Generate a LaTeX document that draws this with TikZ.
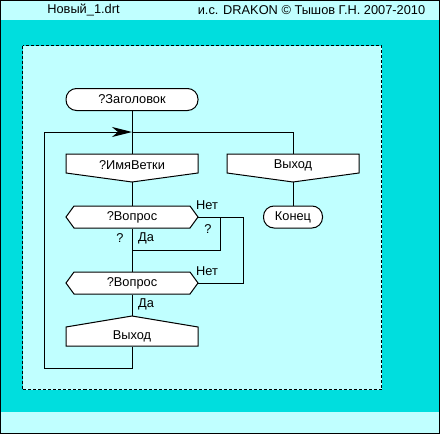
\documentclass[tikz,border=0pt]{standalone}
\usepackage{fontspec}
\setmainfont{Liberation Sans}
\usetikzlibrary{arrows.meta}
\definecolor{panel}{HTML}{C0FFFF}
\definecolor{field}{HTML}{00DEDE}

\begin{document}
\begin{tikzpicture}[x=1pt,y=-1pt,line width=1pt,font=\fontsize{12.8}{15}\selectfont,
  term/.style={draw,fill=white,rounded corners=10.5pt,minimum width=#1,minimum height=22pt,inner sep=0pt},
  body/.style={minimum width=#1,minimum height=22pt,inner sep=0pt},
  lbl/.style={inner sep=0pt},
  icon/.style={draw,fill=white,line join=miter}]
\useasboundingbox (0,0) rectangle (440,434);
\fill[panel] (0,0) rectangle (440,20);
\fill[field] (0,20) rectangle (440,412);
\fill[panel] (0,412) rectangle (440,434);
\draw[fill=panel,dash pattern=on 3pt off 2pt] (22.5,45.5) rectangle (381.5,389.5);
\draw (0.5,0.5) rectangle (439.5,433.5);
\draw[icon] (66,154) -- (198,154) -- (198,173) -- (132,182) -- (66,173) -- cycle;
\draw[icon] (227,154) -- (359,154) -- (359,173) -- (293,182) -- (227,173) -- cycle;
\draw[icon] (66,346) -- (198,346) -- (198,327) -- (132,316) -- (66,327) -- cycle;
\draw[icon] (66,217) -- (74,206) -- (190,206) -- (198,217) -- (190,228) -- (74,228) -- cycle;
\draw[icon] (66,283) -- (74,272) -- (190,272) -- (198,283) -- (190,294) -- (74,294) -- cycle;
\node[term=132pt] (title) at (132,99.5) {?Заголовок};
\node[body=132pt] (branch) at (132,165) {?ИмяВетки};
\node[body=132pt] (exitR) at (293,165) {Выход};
\node[term=59pt] (end) at (293,217) {Конец};
\node[body=116pt] (q1) at (132,217) {?Вопрос};
\node[body=116pt] (q2) at (132,283) {?Вопрос};
\node[body=132pt,minimum height=19pt] (exitB) at (132,336.5) {Выход};
\node[lbl] (file) at (83.5,10) {Новый\_1.drt};
\node[lbl] (credit) at (311.5,10) {и.с. DRAKON © Тышов Г.Н. 2007-2010};
\node[lbl] (no1) at (207,205) {Нет};
\node[lbl] (no2) at (207,271) {Нет};
\node[lbl] (ask1) at (208,229) {?};
\node[lbl] (ask2) at (120,238) {?};
\node[lbl] (yes1) at (146,238) {Да};
\node[lbl] (yes2) at (146,304) {Да};
\coordinate (branchtip) at (132,182);
\coordinate (exitRtip) at (293,182);
\coordinate (exitBtip) at (132,316);
\coordinate (q1e) at (198,217);
\coordinate (q2e) at (198,283);
\coordinate (join) at (132,132);
\coordinate (loopbl) at (44,368);
\coordinate (fork) at (220,217);
\coordinate (merge) at (132,250);
\draw (title) -- (branch);
\draw (branchtip) -- (q1);
\draw (q1) -- (q2);
\draw (q2) -- (exitBtip);
\draw[-{Stealth[length=20pt,width=10pt,inset=6pt]}] (exitB.south) |- (loopbl) |- (join);
\draw (join) -| (exitR.north);
\draw (exitRtip) -- (end);
\draw (q1e) -- ++(45,0) |- (q2e);
\draw (fork) |- (merge);
\end{tikzpicture}
\end{document}
